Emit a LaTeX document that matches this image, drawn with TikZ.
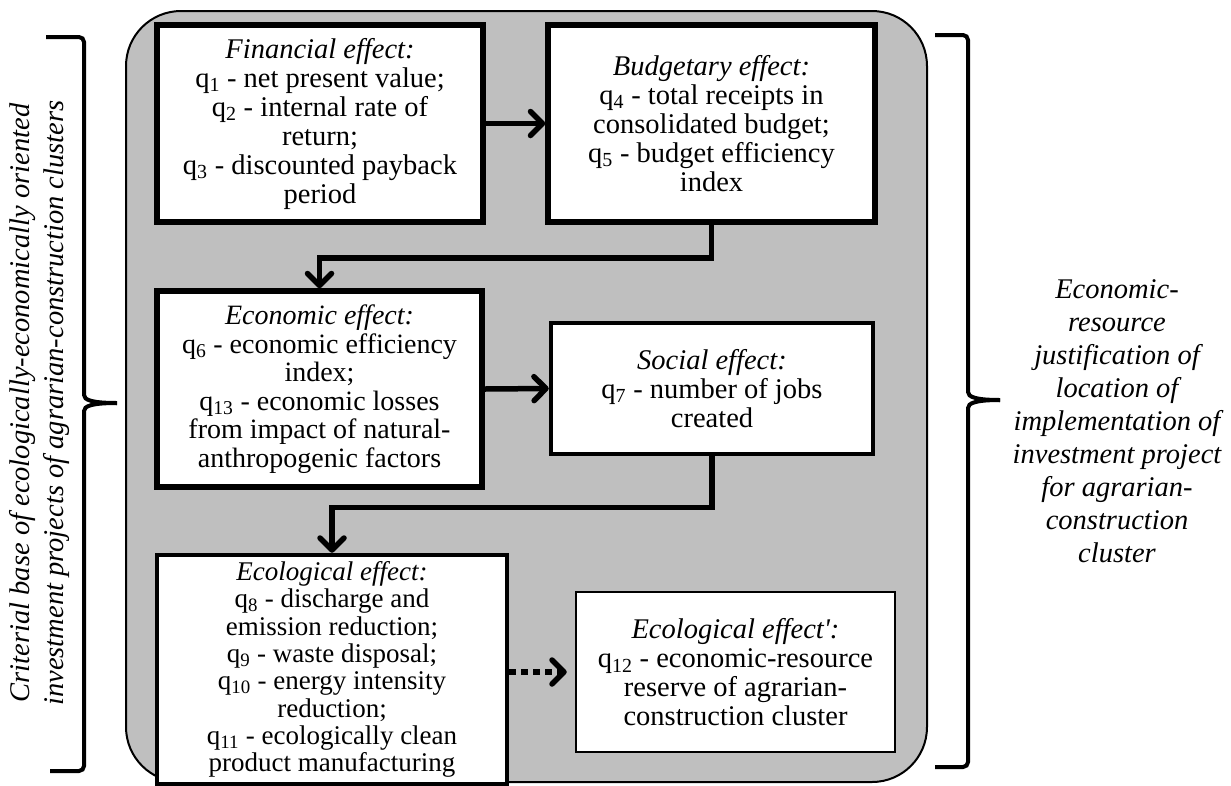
\documentclass[tikz,border=0pt]{standalone}
\usepackage{fontspec}
\setmainfont{Liberation Serif}
\usetikzlibrary{arrows.meta}
\definecolor{panelgrey}{HTML}{BFBFBF}
\tikzset{
  frame/.style={draw, line width=2pt, fill=panelgrey, rounded corners=55pt, inner sep=0pt},
  effectbox/.style={draw, fill=white, line width=5.5pt, inner sep=0pt, align=center,
    font=\fontsize{28.5}{29}\selectfont},
  thinbox/.style={effectbox, line width=2.5pt},
  conn/.style={line width=5.5pt, -{Straight Barb[length=12pt,width=24pt,round]}},
  dotconn/.style={conn, dash pattern=on 7pt off 5pt, shorten >=8pt},
  bracket/.style={line width=4pt, rounded corners=5pt},
  sidetext/.style={align=center, inner sep=0pt, font=\fontsize{28.5}{34}\selectfont\itshape},
}
\begin{document}
\begin{tikzpicture}[x=1pt,y=-1pt]
\useasboundingbox (0,0) rectangle (1231,785);

% grey panel holding all effects
\node[frame, minimum width=801pt, minimum height=771pt] (panel) at (526.5,396.5) {};

% effect boxes
\node[effectbox, minimum width=326pt, minimum height=197pt] (fin) at (320,123.5)
  {\textit{Financial effect:}\\ q\textsubscript{1} - net present value;\\ q\textsubscript{2} - internal rate of\\ return;\\ q\textsubscript{3} - discounted payback\\ period};
\node[effectbox, minimum width=327pt, minimum height=197pt] (bud) at (711.5,123.5)
  {\textit{Budgetary effect:}\\ q\textsubscript{4} - total receipts in\\ consolidated budget;\\ q\textsubscript{5} - budget efficiency\\ index};
\node[effectbox, minimum width=325pt, minimum height=196pt,
  font=\fontsize{28}{28.5}\selectfont] (econ) at (319.5,389)
  {\textit{Economic effect:}\\ q\textsubscript{6} - economic efficiency\\ index;\\ q\textsubscript{13} - economic losses\\ from impact of natural-\\ anthropogenic factors};
\node[effectbox, line width=4.5pt, minimum width=322pt, minimum height=131pt] (soc) at (712,388.5)
  {\textit{Social effect:}\\ q\textsubscript{7} - number of jobs\\ created};
\node[effectbox, line width=4.5pt, minimum width=350pt, minimum height=229pt,
  font=\fontsize{27}{27.3}\selectfont] (eco) at (332,669.5)
  {\textit{Ecological effect:}\\ q\textsubscript{8} - discharge and\\ emission reduction;\\ q\textsubscript{9} - waste disposal;\\ q\textsubscript{10} - energy intensity\\ reduction;\\ q\textsubscript{11} - ecologically clean\\ product manufacturing};
\node[thinbox, minimum width=319pt, minimum height=160pt] (ecoR) at (735.5,672)
  {\textit{Ecological effect\textquotesingle:}\\ q\textsubscript{12} - economic-resource\\ reserve of agrarian-\\ construction cluster};

% connectors
\draw[conn] (fin.east) -- (bud.west);
\draw[conn] (bud.south) -- ++(0,33) -| (econ.north);
\draw[conn] (econ.east) -- (soc.west);
\draw[conn] (soc.south) -- ++(0,51) -| (eco.north);
\draw[dotconn] (eco.east |- ecoR.west) -- (ecoR.west);

% left bracket and its caption
\draw[bracket] (46,37) -- (84,37) -- (84,390) .. controls (84,400) and (92,403) .. (117,403);
\draw[bracket] (117,403) .. controls (92,403) and (84,406) .. (84,416) -- (84,771) -- (50,771);
\node[sidetext, rotate=90] (critbase) at (39,403)
  {Criterial base of ecologically-economically oriented\\ investment projects of agrarian-construction clusters};

% right bracket and its caption
\draw[bracket] (935,35) -- (968,35) -- (968,387) .. controls (968,397) and (976,400) .. (1000,400);
\draw[bracket] (1000,400) .. controls (976,400) and (968,403) .. (968,413) -- (968,767) -- (935,767);
\node[sidetext, font=\fontsize{28.5}{33}\selectfont\itshape] (justif) at (1117,421)
  {Economic-\\ resource\\ justification of\\ location of\\ implementation of\\ investment project\\ for agrarian-\\ construction\\ cluster};
\end{tikzpicture}
\end{document}
